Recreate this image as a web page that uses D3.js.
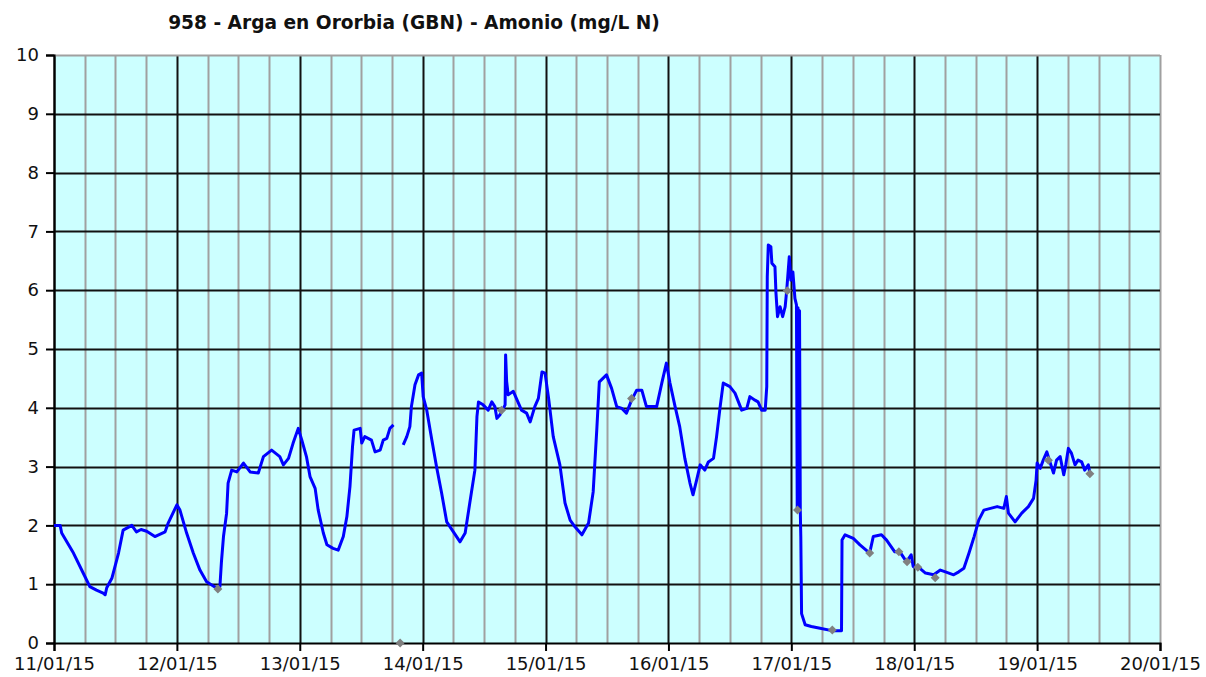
<!DOCTYPE html>
<html>
<head>
<meta charset="utf-8">
<script src="https://cdn.jsdelivr.net/npm/d3@7"></script>
<style>
  body { margin: 0; background: #fff; }
  text { font-family: "DejaVu Sans", Verdana, sans-serif; }
</style>
</head>
<body>
<script>
// Datos: horas desde 11/01/15 00:00 y amonio (mg/L N); null = hueco
var horas = [0,1.2,1.5,2.5,3.8,5.7,7.0,8.3,9.6,10.0,10.3,11.3,12.6,13.5,15.2,16.1,17.0,18.1,19.7,21.7,22.3,24.0,24.6,25.9,27.2,28.5,29.8,31.8,32.4,32.7,33.1,33.7,34.0,34.7,35.7,37.0,38.3,39.9,40.9,42.5,44.1,44.8,45.8,46.7,47.7,48.4,49.3,50.0,51.0,51.6,52.6,53.3,54.5,55.5,56.5,57.2,57.8,58.3,58.6,59.8,60.1,60.7,62.0,62.7,63.7,64.3,65.0,65.6,66.3,
  67.0,
  68.2,68.9,69.5,69.8,70.5,71.2,71.8,72.1,72.8,73.8,74.7,75.7,76.7,78.0,79.3,80.3,81.2,82.2,82.6,82.9,83.8,84.8,85.5,86.1,86.5,87.1,88.1,88.2,88.4,88.7,89.7,90.3,91.3,92.3,93.0,93.9,94.6,95.3,95.9,96.6,97.5,98.8,99.8,100.8,101.7,103.1,104.4,105.3,106.0,106.5,107.9,108.9,109.9,110.9,111.8,112.8,113.8,114.8,115.7,117.7,118.7,119.6,120.3,121.3,122.2,123.2,124.2,124.8,125.5,126.2,127.1,127.8,128.8,129.4,130.1,130.7,132.0,133.0,134.3,135.3,135.9,136.9,137.5,138.2,138.9,139.2,139.3,139.5,140.0,140.2,140.8,141.0,141.3,141.8,142.3,142.8,143.1,143.6,143.9,144.3,144.7,145.0,145.15,145.3,145.45,145.6,145.75,145.85,146.0,146.7,147.9,149.6,151.9,153.8,153.9,154.5,156.1,157.4,159.3,160.0,161.6,162.6,164.2,165.2,166.5,167.4,167.8,169.1,170.2,171.8,173.1,174.1,175.7,176.7,177.7,178.7,179.7,180.6,181.6,182.9,184.2,185.5,186.0,186.4,187.7,189.0,190.3,191.3,191.8,192.0,192.6,193.2,193.9,194.5,195.2,195.8,196.5,197.2,197.6,198.1,198.7,199.4,200.0,200.7,201.3,202.0,202.3]
var amonio = [2.00,2.00,1.87,1.72,1.53,1.19,0.96,0.90,0.85,0.82,0.94,1.10,1.53,1.92,2.00,1.89,1.93,1.90,1.81,1.89,2.04,2.35,2.26,1.87,1.53,1.24,1.04,0.93,0.96,1.38,1.81,2.20,2.72,2.94,2.91,3.06,2.91,2.89,3.17,3.28,3.17,3.03,3.14,3.40,3.65,3.45,3.17,2.83,2.63,2.26,1.87,1.67,1.61,1.58,1.81,2.15,2.66,3.34,3.62,3.65,3.40,3.51,3.45,3.25,3.28,3.45,3.48,3.65,3.71,
  null,
  3.37,3.51,3.68,4.02,4.39,4.56,4.59,4.19,3.96,3.45,3.00,2.55,2.06,1.89,1.72,1.87,2.38,2.94,3.85,4.10,4.05,3.96,4.10,4.02,3.82,3.88,4.05,4.90,4.45,4.22,4.28,4.16,3.96,3.91,3.76,4.02,4.16,4.61,4.59,4.16,3.51,3.03,2.38,2.09,1.98,1.84,2.04,2.57,3.62,4.44,4.56,4.33,4.02,3.99,3.91,4.13,4.30,4.30,4.02,4.02,4.42,4.76,4.42,4.02,3.68,3.14,2.72,2.52,2.77,3.03,2.94,3.08,3.14,3.51,4.02,4.42,4.36,4.25,3.96,3.99,4.19,4.13,4.10,3.96,3.96,4.36,6.23,6.77,6.74,6.46,6.40,5.95,5.55,5.72,5.55,5.72,6.00,6.57,6.17,6.31,5.86,5.75,2.30,5.70,2.30,5.65,2.25,1.81,0.50,0.31,0.28,0.25,0.21,0.21,1.75,1.84,1.78,1.67,1.53,1.81,1.84,1.75,1.55,1.55,1.38,1.50,1.30,1.27,1.19,1.16,1.24,1.21,1.16,1.21,1.27,1.53,1.81,2.09,2.26,2.29,2.32,2.29,2.49,2.21,2.06,2.21,2.32,2.46,2.77,3.06,2.97,3.11,3.25,3.08,2.89,3.11,3.17,2.86,3.03,3.31,3.23,3.03,3.11,3.08,2.94,3.03,2.89]

// Puntos grises (muestras puntuales)
var muestraHoras = [32.0,67.6,87.4,112.8,143.2,145.2,152.0,159.3,165.0,166.6,168.7,172.1,194.2,202.3]
var muestraValores = [0.92,0.00,3.96,4.16,5.99,2.26,0.22,1.53,1.55,1.38,1.29,1.11,3.11,2.88]

var diasEtiquetas = ["11/01/15","12/01/15","13/01/15","14/01/15","15/01/15","16/01/15","17/01/15","18/01/15","19/01/15","20/01/15"]
var valoresY = [0,1,2,3,4,5,6,7,8,9,10]

var titulo = "958 - Arga en Ororbia (GBN) - Amonio (mg/L N)"

var inicio = new Date(2015, 0, 11)
function fecha(h) { return new Date(inicio.getTime() + h * 3600000) }

var datos = horas.map(function(h, i) { return {t: fecha(h), v: amonio[i]} })
var muestras = muestraHoras.map(function(h, i) { return {t: fecha(h), v: muestraValores[i]} })

var margin = {top: 55, right: 46, bottom: 34, left: 54}
var width = 1206 - margin.left - margin.right
var height = 677 - margin.top - margin.bottom

var svg = d3.select("body").append("svg")
    .attr("width", 1206)
    .attr("height", 677)

var g = svg.append("g")
    .attr("transform", "translate(" + margin.left + "," + margin.top + ")")

var x = d3.scaleTime()
    .domain([new Date(2015, 0, 11), new Date(2015, 0, 20)])
    .range([0, width])
var y = d3.scaleLinear()
    .domain([0, 10])
    .range([height, 0])

// fondo
g.append("rect")
    .attr("width", width).attr("height", height)
    .attr("fill", "#ccffff")

// rejilla vertical cada 6 horas
var seisHoras = d3.timeHour.every(6).range(x.domain()[0], d3.timeHour.offset(x.domain()[1], 1))
g.selectAll(".vmin").data(seisHoras).enter().append("line")
    .attr("x1", function(d) { return Math.round(x(d)) + 0.5 })
    .attr("x2", function(d) { return Math.round(x(d)) + 0.5 })
    .attr("y1", 0).attr("y2", height)
    .attr("stroke", function(d) { return d.getHours() == 0 && +d != +x.domain()[1] ? "#111" : "#a0a0a0" })
    .attr("stroke-width", 2)

// rejilla horizontal
g.selectAll(".hgrid").data(valoresY.slice(1)).enter().append("line")
    .attr("x1", 0).attr("x2", width)
    .attr("y1", function(d) { return Math.round(y(d)) + 0.5 })
    .attr("y2", function(d) { return Math.round(y(d)) + 0.5 })
    .attr("stroke", function(d) { return d == 10 ? "#a0a0a0" : "#111" })
    .attr("stroke-width", 2)

// EJE Y
var ejeY = g.append("g")
    .call(d3.axisLeft(y).tickValues(valoresY).tickSize(8).tickPadding(7))
ejeY.select(".domain").attr("stroke", "#000").attr("stroke-width", 2)
ejeY.selectAll(".tick line").attr("stroke", "#000").attr("stroke-width", 2)
ejeY.selectAll("text").attr("font-size", 18).attr("fill", "#111")
    .style("font-family", "DejaVu Sans")

// EJE X
var dias = diasEtiquetas.map(function(s, i) { return d3.timeDay.offset(inicio, i) })
var ejeX = g.append("g")
    .attr("transform", "translate(0," + height + ")")
    .call(d3.axisBottom(x).tickValues(dias).tickSize(8).tickPadding(6)
        .tickFormat(function(d, i) { return diasEtiquetas[i] }))
ejeX.select(".domain").attr("stroke", "#000").attr("stroke-width", 2)
ejeX.selectAll(".tick line").attr("stroke", "#000").attr("stroke-width", 2)
ejeX.selectAll("text").attr("font-size", 18).attr("fill", "#111")
    .style("font-family", "DejaVu Sans")

// Línea
var linea = d3.line()
    .defined(function(d) { return d.v != null })
    .x(function(d) { return x(d.t) })
    .y(function(d) { return y(d.v) })

g.append("path")
    .datum(datos)
    .attr("fill", "none")
    .attr("stroke", "#0000ff")
    .attr("stroke-width", 3)
    .attr("stroke-linejoin", "round")
    .attr("d", linea)

// muestras (rombos grises)
g.selectAll(".muestra").data(muestras).enter().append("path")
    .attr("transform", function(d) { return "translate(" + x(d.t) + "," + y(d.v) + ")" })
    .attr("d", "M0,-4.5L4.5,0L0,4.5L-4.5,0Z")
    .attr("fill", "#808080")

// Título
svg.append("text")
    .attr("x", 414).attr("y", 29)
    .attr("text-anchor", "middle")
    .attr("font-size", 18.6)
    .attr("font-weight", "bold")
    .attr("fill", "#111")
    .text(titulo)
</script>
</body>
</html>
